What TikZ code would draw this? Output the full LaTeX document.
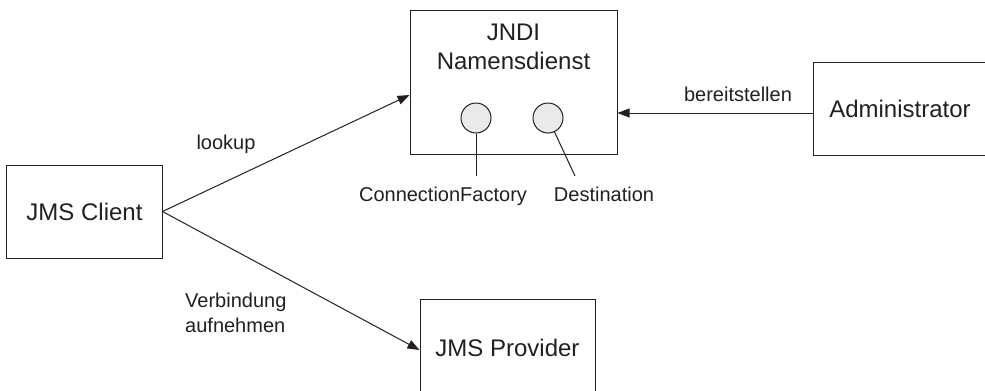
\documentclass[tikz,border=0pt]{standalone}
\usepackage{fontspec}
\setmainfont{Liberation Sans}
\usetikzlibrary{arrows.meta}
\definecolor{ink}{RGB}{35,31,32}
\definecolor{disc}{RGB}{234,234,234}
\begin{document}
\begin{tikzpicture}[x=1bp,y=-1bp,
  wire/.style={draw=ink, line width=1bp},
  box/.style={draw=ink, line width=1bp, rectangle, inner sep=0pt,
    font=\fontsize{24bp}{28.8bp}\selectfont, text=ink},
  port/.style={draw=ink, line width=1bp, circle, fill=disc,
    minimum size=30bp, inner sep=0pt},
  lbl/.style={font=\fontsize{20bp}{25bp}\selectfont, text=ink, inner sep=0pt},
  oneline/.style={lbl, text height=14.5bp, text depth=0bp},
  big/.style={font=\fontsize{24bp}{28.8bp}\selectfont, text=ink, inner sep=0pt, align=center},
  flow/.style={wire, -{Triangle[length=12bp,width=9bp]}}
]
\useasboundingbox (0,0) rectangle (985,390);
\clip (0,0) rectangle (985,390);

% boxes
\node[box, minimum width=155bp, minimum height=93bp] (client) at (84.5,211.5) {JMS Client};
\node[box, minimum width=207bp, minimum height=144bp] (jndi) at (513.5,82) {};
\node[big] (jnditxt) at (513.5,47) {JNDI\\Namensdienst};
\node[box, minimum width=174bp, minimum height=93bp] (admin) at (900,108.5) {Administrator};
\node[box, minimum width=175bp, minimum height=98bp] (provider) at (507.5,348) {JMS Provider};

% registered objects inside the naming service
\node[port] (cf) at (476,118) {};
\node[port] (dest) at (548,118) {};
\coordinate (cfend) at (476,176);
\coordinate (destend) at (575,176);
\draw[wire] (cf.south) -- (cfend);
\draw[wire] (dest) -- (destend);
\node[oneline] (cflbl) at (443,194) {ConnectionFactory};
\node[oneline] (destlbl) at (604,194) {Destination};

% connectors
\draw[flow] (client.east) -- ([yshift=-13bp]jndi.west);
\node[oneline] (lookup) at (226,142) {lookup};
\draw[flow] (client.east) -- ([yshift=-2bp]provider.west);
\node[lbl, anchor=west, align=left] (connect) at (185,312.5) {Verbindung\\aufnehmen};
\draw[flow] ([yshift=-4.5bp]admin.west) -- ([yshift=-4.5bp]admin.west -| jndi.east);
\node[oneline] (provide) at (738,94) {bereitstellen};
\end{tikzpicture}
\end{document}
